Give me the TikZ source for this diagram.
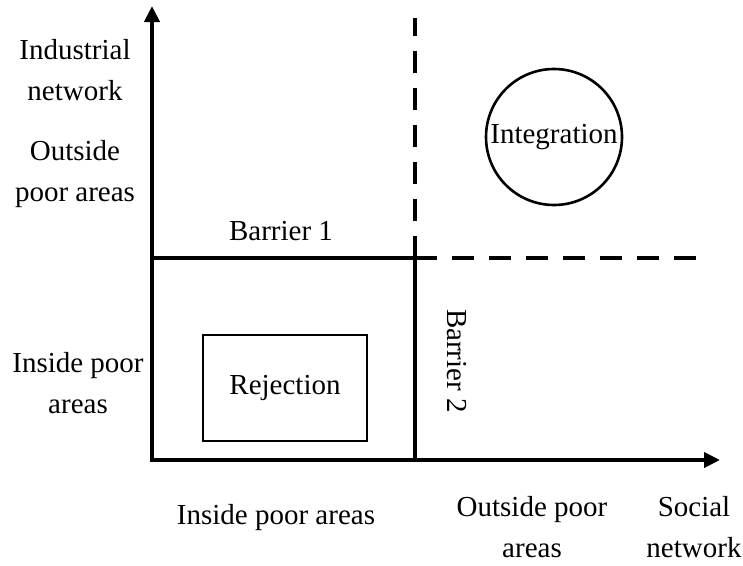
\documentclass[tikz,border=0pt]{standalone}
\usepackage{fontspec}
\setmainfont{Liberation Serif}
\usetikzlibrary{arrows.meta}
\begin{document}
\begin{tikzpicture}[x=1pt,y=-1pt,
  every node/.style={font=\fontsize{29}{41}\selectfont, align=center, inner sep=0pt},
  axis/.style={line width=4pt, -{Triangle[length=16pt,width=15pt]}},
  barrier/.style={line width=4pt},
  barrierdash/.style={line width=4pt, dash pattern=on 22pt off 15pt},
  outcome/.style={draw, line width=2.6pt}]
\useasboundingbox (0,0) rectangle (743,565);

% axes and barrier junction points
\coordinate (o) at (152,460);
\coordinate (ytip) at (152,6);
\coordinate (xtip) at (720,460);
\coordinate (b1l) at (152,258);
\coordinate (jn) at (415,258);
\coordinate (b2b) at (415,460);
\coordinate (b1end) at (697,258);
\coordinate (b2end) at (415,18);

% barriers
\draw[barrier] (b1l) -- (jn) -- (b2b);
\draw[barrierdash] (jn) -- (b1end);
\draw[barrierdash] (jn) -- (b2end);

% axes
\draw[axis] ([yshift=2pt]o) -- (ytip);
\draw[axis] ([xshift=-2pt]o) -- (xtip);

% outcomes
\node[outcome, minimum width=164pt, minimum height=106pt] (rej) at (285,388) {Rejection};
\node[outcome, circle, minimum size=136pt] (int) at (554,137) {Integration};

% barrier labels
\node (bar1) at (281,231) {Barrier 1};
\node[rotate=-90] (bar2) at (457,361) {Barrier 2};

% vertical axis labels
\node (ylab) at (75,70) {Industrial\\network};
\node (yout) at (75,174) {Outside\\poor areas};
\node (yin) at (78,383) {Inside poor\\areas};

% horizontal axis labels
\node (xin) at (276,518) {Inside poor areas};
\node (xout) at (532,527) {Outside poor\\areas};
\node (xlab) at (694,527) {Social\\network};
\end{tikzpicture}
\end{document}
